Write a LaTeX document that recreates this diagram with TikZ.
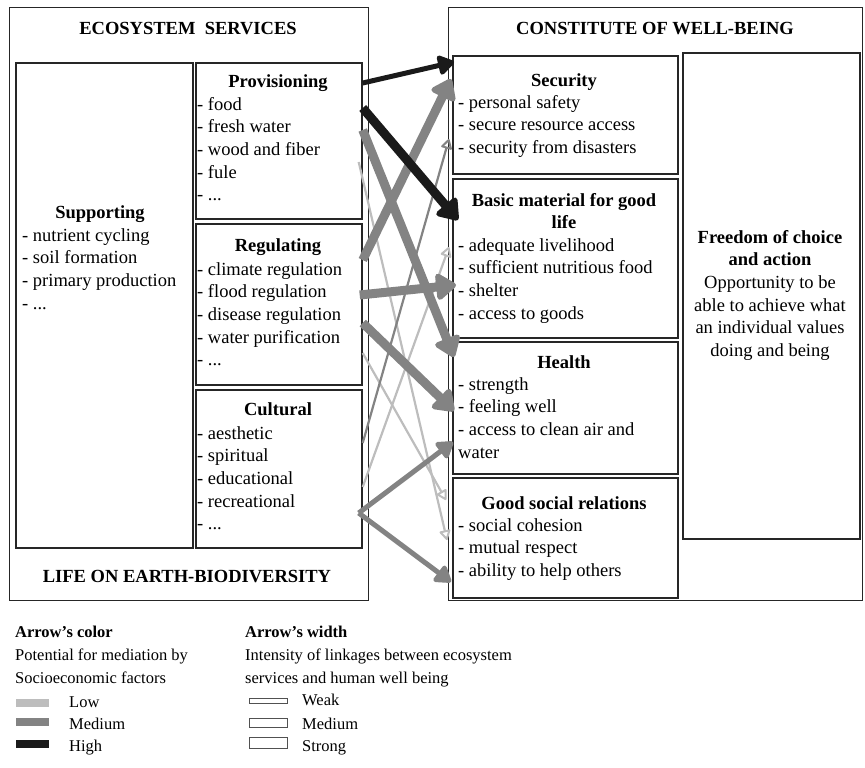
\documentclass[tikz,border=0pt]{standalone}
\usepackage{fontspec}
\setmainfont{Liberation Serif}
\usetikzlibrary{arrows.meta,calc}
\definecolor{cLow}{HTML}{BDBDBD}
\definecolor{cMed}{HTML}{838383}
\definecolor{cHigh}{HTML}{1A1A1A}
\definecolor{cLine}{HTML}{262626}
\begin{document}
\begin{tikzpicture}[x=1pt,y=-1pt,
  box/.style={draw=cLine, line width=1.7pt, inner sep=0, anchor=north west},
  outerbox/.style={draw=cLine, line width=1.3pt, inner sep=0, anchor=north west},
  hdr/.style={font=\fontsize{18.5}{22}\selectfont\bfseries, anchor=base, inner sep=0},
  ttl/.style={font=\fontsize{18.5}{22.7}\selectfont\bfseries, anchor=base, inner sep=0},
  items/.style={font=\fontsize{18.5}{22.7}\selectfont, align=left, anchor=north west, inner sep=0},
  ctext/.style={font=\fontsize{18.5}{22.7}\selectfont, align=center, anchor=north, inner sep=0},
  legtxt/.style={font=\fontsize{16.5}{23}\selectfont, anchor=base west, inner sep=0},
  legbold/.style={font=\fontsize{16.5}{23}\selectfont\bfseries, anchor=base west, inner sep=0},
  strongA/.style={line width=9pt, -{Triangle[length=22pt,width=30pt,round]}},
  midA/.style={line width=5pt, -{Triangle[length=18pt,width=22pt,round]}},
  weakA/.style={line width=2.2pt, -{Triangle[open,length=11pt,width=12pt,round,line width=2pt]}},
  swatch/.style={inner sep=0, minimum width=33pt, minimum height=8pt, anchor=north west},
  wbox/.style={draw=cLine!80, line width=1.1pt, fill=white, inner sep=0, minimum width=38pt, anchor=north west}
]
\useasboundingbox (0,0) rectangle (865,768);

% outer panels
\node[outerbox, minimum width=359pt, minimum height=593pt] (left) at (9,7) {};
\node[outerbox, minimum width=414pt, minimum height=593pt] (right) at (448,7) {};
\node[hdr] (hES) at (188,35) {ECOSYSTEM\hspace{0.5em}SERVICES};
\node[hdr] (hLE) at (187,582) {LIFE ON EARTH-BIODIVERSITY};
\node[hdr] (hCW) at (655,35) {CONSTITUTE OF WELL-BEING};

% left boxes
\node[box, minimum width=177pt, minimum height=485pt] (sup) at (15,62) {};
\node[box, minimum width=166pt, minimum height=156pt] (prov) at (195,62) {};
\node[box, minimum width=166pt, minimum height=161pt] (reg) at (195,223) {};
\node[box, minimum width=166pt, minimum height=158pt] (cult) at (195,389) {};

% right boxes
\node[box, minimum width=225pt, minimum height=118pt] (sec) at (452,55) {};
\node[box, minimum width=225pt, minimum height=159pt] (basic) at (452,178) {};
\node[box, minimum width=225pt, minimum height=132pt] (health) at (452,341) {};
\node[box, minimum width=225pt, minimum height=120pt] (social) at (452,477) {};
\node[box, minimum width=177pt, minimum height=486pt] (free) at (682,52) {};

% left texts
\node[ttl] (tSup) at (100,218) {Supporting};
\node[items] (iSup) at (22,225.1) {\strut- nutrient cycling\\- soil formation\\- primary production\\- ...};
\node[ttl] (tProv) at (278,88) {Provisioning};
\node[items] (iProv) at (197,94.1) {\strut- food\\- fresh water\\- wood and fiber\\- fule\\- ...};
\node[ttl] (tReg) at (278,251) {Regulating};
\node[items] (iReg) at (197,259.1) {\strut- climate regulation\\- flood regulation\\- disease regulation\\- water purification\\- ...};
\node[ttl] (tCult) at (278,415) {Cultural};
\node[items] (iCult) at (197,423.1) {\strut- aesthetic\\- spiritual\\- educational\\- recreational\\- ...};

% right texts
\node[ttl] (tSec) at (564,86) {Security};
\node[items] (iSec) at (458,92.1) {\strut- personal safety\\- secure resource access\\- security from disasters};
\node[ctext, font=\fontsize{18.5}{22.7}\selectfont\bfseries] (tBasic) at (564,190.1) {\strut Basic material for good\\life};
\node[items] (iBasic) at (458,235.1) {\strut- adequate livelihood\\- sufficient nutritious food\\- shelter\\- access to goods};
\node[ttl] (tHealth) at (564,368) {Health};
\node[items] (iHealth) at (458,374.1) {\strut- strength\\- feeling well\\- access to clean air and\\water};
\node[ttl] (tSocial) at (564,509) {Good social relations};
\node[items] (iSocial) at (458,515.1) {\strut- social cohesion\\- mutual respect\\- ability to help others};
\node[ctext] (tFree) at (770,227.1) {\strut\textbf{Freedom of choice}\\\textbf{and action}\\Opportunity to be\\able to achieve what\\an individual values\\doing and being};

% arrows: light (low) first
\draw[weakA, cLow] ($(prov.north east)+(-4,100)$) -- ($(social.north west)+(-5,63)$);
\draw[weakA, cLow] ($(reg.north east)+(0,130)$) -- ($(social.north west)+(-6,23)$);
\draw[weakA, cLow] ($(cult.north east)+(0,98)$) -- ($(basic.north west)+(-3,69)$);
% medium colour
\draw[weakA, cMed] ($(cult.north east)+(0,54)$) -- ($(sec.north west)+(-3,84)$);
\draw[strongA, cMed] ($(prov.north east)+(0,68)$) -- ($(health.north west)+(2,16)$);
\draw[strongA, cMed] ($(reg.north east)+(0,37)$) -- ($(sec.north west)+(-1,24)$);
\draw[strongA, cMed] ($(reg.north east)+(-3,72)$) -- ($(basic.north west)+(4,107)$);
\draw[strongA, cMed] ($(reg.north east)+(0,100)$) -- ($(health.north west)+(2,70)$);
\draw[midA, cMed] ($(cult.north east)+(-4,124)$) -- ($(health.north west)+(1,101)$);
\draw[midA, cMed] ($(cult.north east)+(-4,124)$) -- ($(social.north west)+(-1,105)$);
% high
\draw[midA, cHigh] ($(prov.north east)+(0,21)$) -- ($(sec.north west)+(2,7)$);
\draw[strongA, cHigh] ($(prov.north east)+(0,46)$) -- ($(basic.north west)+(6,42)$);

% legend: colour
\node[legbold] (lc0) at (15,637) {Arrow's color};
\node[legtxt] (lc1) at (15,660) {Potential for mediation by};
\node[legtxt] (lc2) at (15,683) {Socioeconomic factors};
\node[swatch, fill=cLow] (sLow) at (16,699) {};
\node[swatch, fill=cMed] (sMed) at (16,718) {};
\node[swatch, fill=cHigh] (sHigh) at (16,740) {};
\node[legtxt] (lLow) at (69,707) {Low};
\node[legtxt] (lMed) at (69,729) {Medium};
\node[legtxt] (lHigh) at (69,751) {High};

% legend: width
\node[legbold] (lw0) at (245,637) {Arrow's width};
\node[legtxt] (lw1) at (245,660) {Intensity of linkages between ecosystem};
\node[legtxt] (lw2) at (245,683) {services and human well being};
\node[wbox, minimum height=5.5pt] (wWeak) at (249,697.5) {};
\node[wbox, minimum height=9.5pt] (wMed) at (249,717.5) {};
\node[wbox, minimum height=11pt] (wStrong) at (249,736.5) {};
\node[legtxt] (lWeak) at (302,705.5) {Weak};
\node[legtxt] (lWMed) at (302,729.5) {Medium};
\node[legtxt] (lWStrong) at (302,751) {Strong};
\end{tikzpicture}
\end{document}
